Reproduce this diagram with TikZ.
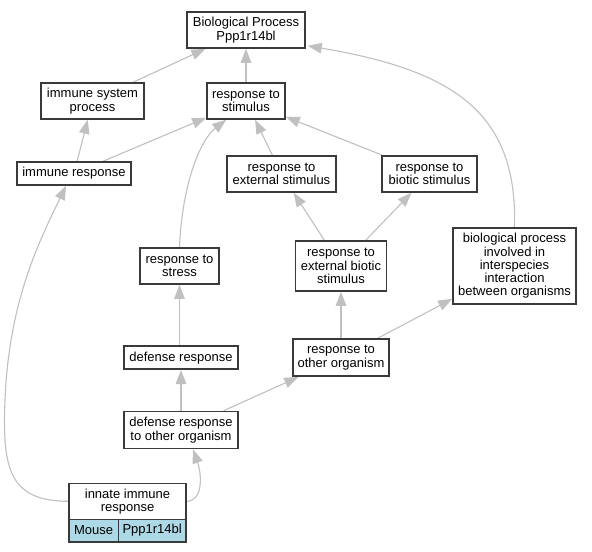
\documentclass[tikz,border=0pt]{standalone}
\usepackage{fontspec}
\setmainfont{Liberation Sans}
\usetikzlibrary{arrows.meta,calc}
\pgfdeclarelayer{edgelayer}
\pgfsetlayers{edgelayer,main}
\definecolor{edgegray}{RGB}{192,192,192}
\definecolor{boxline}{RGB}{58,58,58}
\definecolor{lblue}{RGB}{173,216,230}
\tikzset{
  gobox/.style={draw=boxline, line width=1.6bp, fill=white, align=center, inner sep=0pt,
    font=\fontsize{13bp}{13.3bp}\selectfont},
  isa/.style={draw=edgegray, line width=1.1bp, -{Triangle[length=14bp,width=10.5bp,fill=edgegray]}},
}
\begin{document}
\begin{tikzpicture}[x=1bp,y=-1bp]
\useasboundingbox (0,0) rectangle (592,552);
\begin{pgfonlayer}{edgelayer}
\fill[white] (0,0) rectangle (592,552);
\end{pgfonlayer}
% nodes
\node[gobox, minimum width=118bp, minimum height=36bp] (bp) at (246,30) {Biological Process\\Ppp1r14bl};
\node[gobox, minimum width=103bp, minimum height=36bp] (isp) at (92.5,101) {immune system\\process};
\node[gobox, minimum width=78bp, minimum height=36bp] (rts) at (246,101) {response to\\stimulus};
\node[gobox, minimum width=114bp, minimum height=23bp] (ir) at (74,173.5) {immune response};
\node[gobox, minimum width=109bp, minimum height=36bp] (res) at (281.5,174) {response to\\external stimulus};
\node[gobox, minimum width=95bp, minimum height=36bp] (rbs) at (429.5,174) {response to\\biotic stimulus};
\node[gobox, minimum width=91bp, minimum height=50bp] (rebs) at (341,266) {response to\\external biotic\\stimulus};
\node[gobox, minimum width=123bp, minimum height=76bp] (bpi) at (514.5,266) {biological process\\involved in\\interspecies\\interaction\\between organisms};
\node[gobox, minimum width=79bp, minimum height=36bp] (rst) at (179.5,266) {response to\\stress};
\node[gobox, minimum width=114bp, minimum height=23bp] (dr) at (181,357.7) {defense response};
\node[gobox, minimum width=96bp, minimum height=37bp] (roo) at (341,357.7) {response to\\other organism};
\node[gobox, minimum width=114bp, minimum height=37bp] (dro) at (181,430) {defense response\\to other organism};
\node[gobox, minimum width=117bp, minimum height=36bp] (inn) at (127.5,501.3) {innate immune\\response};
\node[gobox, fill=lblue, minimum width=49.3bp, minimum height=22.4bp] (mouse) at (93.65,530.5) {Mouse};
\node[gobox, fill=lblue, minimum width=67.7bp, minimum height=22.4bp] (gene) at (152.15,530.5) {Ppp1r14bl};
% edges
\begin{pgfonlayer}{edgelayer}
\draw[isa] (isp) -- (bp);
\draw[isa] (rts) -- (bp);
\draw[isa] (bpi.north) .. controls (518,110) and (450,70) .. ($(bp.south east)+(2,-3)$);
\draw[isa] (ir) -- (isp);
\draw[isa] (ir) -- (rts);
\draw[isa] (rst.north) .. controls (182,185) and (200,140) .. ($(rts.south west)+(20,0)$);
\draw[isa] (res) -- (rts);
\draw[isa] (rbs) -- (rts);
\draw[isa] (rebs) -- (res);
\draw[isa] (rebs) -- (rbs);
\draw[isa] (roo) -- (rebs);
\draw[isa] (roo) -- (bpi);
\draw[isa] (rst.south |- dr.north) -- (rst.south);
\draw[isa] (dro) -- (dr);
\draw[isa] (dro) -- (roo);
\draw[isa] (inn.east) .. controls (203,501) and (202,475) .. ($(dro.south)+(12,0)$);
\draw[isa] (inn.west) .. controls (10,501) and (2,470) .. (5,400) .. controls (9,300) and (40,240) .. ($(ir.south)+(-8,0)$);
\end{pgfonlayer}
\end{tikzpicture}
\end{document}
